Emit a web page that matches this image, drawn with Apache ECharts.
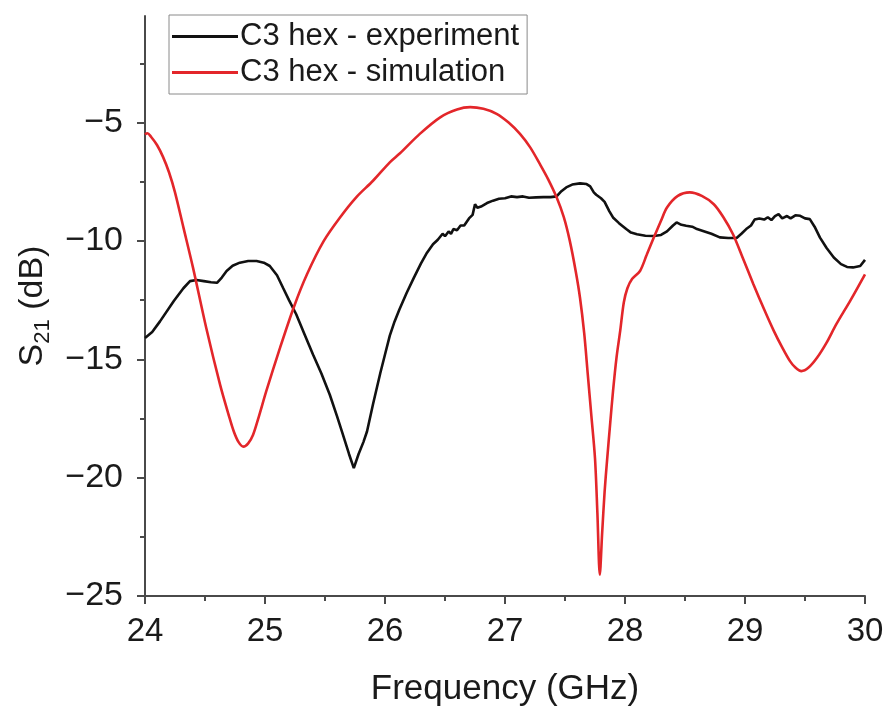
<!DOCTYPE html>
<html>
<head>
<meta charset="utf-8">
<script src="https://cdn.jsdelivr.net/npm/echarts@6/dist/echarts.min.js"></script>
<style>
  html, body { margin: 0; padding: 0; background: #fff; }
  #chart { width: 888px; height: 706px; }
</style>
</head>
<body>
<div id="chart"></div>
<script>
// S21 vs frequency
const expFreq = [24.00, 24.06, 24.125, 24.24, 24.32, 24.375, 24.43, 24.49, 24.55, 24.60, 24.64, 24.68, 24.73, 24.79, 24.86, 24.93, 24.99, 25.04, 25.10, 25.15, 25.20, 25.26, 25.33, 25.40, 25.47, 25.54, 25.60, 25.65, 25.70, 25.74, 25.78, 25.82, 25.85, 25.90, 25.96, 26.00, 26.04, 26.08, 26.12, 26.18, 26.24, 26.30, 26.35, 26.40, 26.44, 26.48, 26.50, 26.53, 26.55, 26.57, 26.60, 26.63, 26.66, 26.70, 26.73, 26.75, 26.77, 26.80, 26.85, 26.90, 26.95, 27.00, 27.05, 27.10, 27.15, 27.20, 27.26, 27.32, 27.38, 27.43, 27.47, 27.51, 27.56, 27.625, 27.68, 27.71, 27.74, 27.76, 27.80, 27.83, 27.87, 27.90, 27.95, 28.01, 28.05, 28.10, 28.17, 28.24, 28.30, 28.35, 28.40, 28.43, 28.47, 28.51, 28.56, 28.60, 28.65, 28.72, 28.79, 28.86, 28.93, 28.97, 29.01, 29.05, 29.08, 29.12, 29.16, 29.19, 29.22, 29.25, 29.28, 29.31, 29.35, 29.38, 29.42, 29.46, 29.50, 29.54, 29.58, 29.625, 29.68, 29.74, 29.80, 29.85, 29.90, 29.96, 30.00];
const expS21 = [-14.1, -13.85, -13.4, -12.54, -12.0, -11.7, -11.65, -11.7, -11.75, -11.77, -11.55, -11.27, -11.05, -10.92, -10.85, -10.85, -10.92, -11.06, -11.45, -11.98, -12.5, -13.1, -13.95, -14.8, -15.6, -16.5, -17.4, -18.19, -19.0, -19.6, -19.0, -18.5, -18.05, -16.9, -15.6, -14.8, -14.0, -13.4, -12.9, -12.2, -11.56, -10.95, -10.5, -10.14, -9.95, -9.7, -9.8, -9.6, -9.7, -9.5, -9.55, -9.35, -9.35, -9.05, -8.9, -8.45, -8.6, -8.55, -8.4, -8.3, -8.22, -8.2, -8.12, -8.15, -8.12, -8.18, -8.16, -8.15, -8.15, -8.12, -7.9, -7.74, -7.62, -7.57, -7.6, -7.7, -7.95, -8.05, -8.2, -8.35, -8.75, -9.01, -9.25, -9.5, -9.65, -9.72, -9.78, -9.79, -9.75, -9.6, -9.35, -9.22, -9.32, -9.36, -9.4, -9.5, -9.58, -9.7, -9.85, -9.88, -9.88, -9.7, -9.5, -9.35, -9.1, -9.05, -9.1, -9.0, -9.12, -8.95, -8.87, -9.05, -8.95, -9.05, -8.92, -8.94, -9.05, -9.08, -9.4, -9.86, -10.3, -10.7, -10.98, -11.1, -11.12, -11.06, -10.8];

const simFreq = [24.00, 24.02, 24.05, 24.10, 24.15, 24.20, 24.25, 24.32, 24.40, 24.51, 24.625, 24.70, 24.74, 24.78, 24.82, 24.86, 24.90, 24.95, 25.01, 25.125, 25.24, 25.35, 25.49, 25.625, 25.76, 25.90, 26.04, 26.125, 26.29, 26.46, 26.60, 26.71, 26.82, 26.93, 27.03, 27.125, 27.21, 27.29, 27.36, 27.43, 27.49, 27.54, 27.59, 27.625, 27.66, 27.69, 27.72, 27.75, 27.77, 27.79, 27.81, 27.83, 27.85, 27.875, 27.90, 27.93, 27.96, 27.99, 28.02, 28.06, 28.125, 28.18, 28.24, 28.30, 28.35, 28.44, 28.54, 28.64, 28.74, 28.82, 28.90, 28.98, 29.07, 29.16, 29.24, 29.31, 29.375, 29.42, 29.47, 29.53, 29.60, 29.68, 29.76, 29.88, 30.00];
const simS21 = [-5.5, -5.45, -5.6, -5.95, -6.45, -7.1, -7.95, -9.43, -11.13, -13.67, -16.06, -17.4, -18.05, -18.5, -18.69, -18.55, -18.2, -17.4, -16.36, -14.52, -12.8, -11.41, -10.0, -9.01, -8.16, -7.46, -6.68, -6.3, -5.48, -4.78, -4.45, -4.35, -4.42, -4.63, -5.0, -5.48, -6.05, -6.75, -7.4, -8.16, -9.0, -10.0, -11.3, -12.4, -13.9, -15.65, -17.4, -19.18, -21.5, -24.1, -22.3, -20.6, -19.3, -17.8, -16.36, -14.9, -13.8, -12.6, -12.0, -11.6, -11.27, -10.6, -9.86, -9.15, -8.59, -8.1, -7.95, -8.1, -8.45, -9.0, -9.72, -10.7, -11.83, -12.9, -13.8, -14.5, -15.08, -15.35, -15.5, -15.35, -14.94, -14.3, -13.53, -12.5, -11.41];

const xTicks = [24, 25, 26, 27, 28, 29, 30];
const yTicks = [-25, -20, -15, -10, -5];
const yMinorTicks = [-22.5, -17.5, -12.5, -7.5, -2.5];

const zip = (xs, ys) => xs.map((x, i) => [x, ys[i]]);
const minus = v => (v < 0 ? '\u2212' + Math.abs(v) : String(v));

const axisColor = '#4a4a4a';
const font = 'Liberation Sans, Arial, sans-serif';

const chart = echarts.init(document.getElementById('chart'));
chart.setOption({
  animation: false,
  grid: { left: 145, right: 23, top: 16, bottom: 110, outerBoundsMode: 'none', containLabel: false },
  legend: {
    orient: 'vertical',
    left: 169,
    top: 15,
    padding: [6, 8, 6, 3],
    itemGap: 5,
    itemWidth: 66,
    itemHeight: 3,
    icon: 'rect',
    borderColor: '#8a8a8a',
    borderWidth: 1,
    textStyle: { fontFamily: font, fontSize: 31, color: '#1a1a1a', padding: [0, 0, 0, -3] },
    data: ['C3 hex - experiment', 'C3 hex - simulation']
  },
  xAxis: {
    type: 'value',
    min: 24,
    max: 30,
    interval: 1,
    name: 'Frequency (GHz)',
    nameLocation: 'middle',
    nameGap: 76,
    nameTextStyle: { fontFamily: font, fontSize: 35, color: '#1a1a1a' },
    axisLine: { lineStyle: { color: axisColor, width: 2 } },
    axisTick: { length: 8, lineStyle: { color: axisColor, width: 2 } },
    minorTick: { show: true, splitNumber: 2, length: 5, lineStyle: { color: axisColor, width: 2 } },
    axisLabel: { customValues: xTicks, fontFamily: font, fontSize: 33, color: '#1a1a1a', margin: 19 },
    splitLine: { show: false }
  },
  yAxis: [
    {
      type: 'value',
      min: -25,
      max: -0.5,
      interval: 5,
      name: '{a|S}{sub|21}{a| (dB)}',
      nameLocation: 'middle',
      nameGap: 88,
      nameTextStyle: {
        fontFamily: font,
        color: '#1a1a1a',
        rich: {
          a: { fontFamily: font, fontSize: 34, lineHeight: 44, color: '#1a1a1a' },
          sub: { fontFamily: font, fontSize: 22, lineHeight: 22, verticalAlign: 'bottom', color: '#1a1a1a' }
        }
      },
      axisLine: { lineStyle: { color: axisColor, width: 2 } },
      axisTick: { customValues: yTicks, length: 8, lineStyle: { color: axisColor, width: 2 } },
      axisLabel: {
        customValues: yTicks,
        formatter: minus,
        fontFamily: font,
        fontSize: 34,
        color: '#1a1a1a',
        margin: 22
      },
      splitLine: { show: false }
    },
    {
      type: 'value',
      position: 'left',
      min: -25,
      max: -0.5,
      axisLine: { show: false },
      axisTick: { show: true, customValues: yMinorTicks, length: 5, lineStyle: { color: axisColor, width: 2 } },
      axisLabel: { show: false },
      splitLine: { show: false }
    }
  ],
  series: [
    {
      name: 'C3 hex - experiment',
      type: 'line',
      data: zip(expFreq, expS21),
      showSymbol: false,
      symbol: 'none',
      color: '#111111',
      lineStyle: { color: '#111111', width: 2.6 }
    },
    {
      name: 'C3 hex - simulation',
      type: 'line',
      data: zip(simFreq, simS21),
      showSymbol: false,
      symbol: 'none',
      smooth: 0.3,
      color: '#e3262a',
      lineStyle: { color: '#e3262a', width: 2.6 }
    }
  ]
});
</script>
</body>
</html>
